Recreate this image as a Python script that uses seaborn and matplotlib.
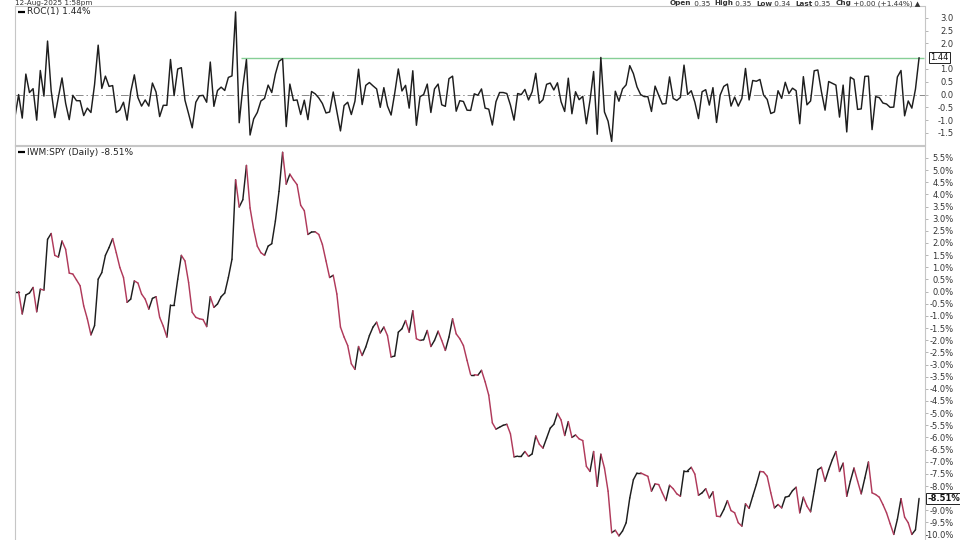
import matplotlib
matplotlib.use('Agg')
import matplotlib.pyplot as plt
import matplotlib.transforms as mtrans
import numpy as np
import pandas as pd
import seaborn as sns

# IWM:SPY relative performance in % (bottom panel), one value per session
PERF = [0.00, 0.00, -0.92, -0.14, -0.06, 0.17, -0.83, 0.10, 0.06, 2.15,
    2.39, 1.49, 1.42, 2.08, 1.74, 0.76, 0.72, 0.48, 0.24, -0.59,
    -1.12, -1.78, -1.40, 0.51, 0.78, 1.49, 1.81, 2.18, 1.60, 0.99,
    0.58, -0.44, -0.31, 0.44, 0.35, -0.10, -0.31, -0.72, -0.28, -0.21,
    -1.06, -1.42, -1.87, -0.55, -0.55, 0.51, 1.49, 1.26, 0.38, -0.85,
    -1.06, -1.12, -1.15, -1.44, -0.21, -0.65, -0.51, -0.21, -0.06, 0.58,
    1.33, 4.60, 3.48, 3.78, 5.19, 3.44, 2.56, 1.87, 1.60, 1.49,
    1.87, 1.97, 2.90, 4.12, 5.73, 4.42, 4.83, 4.60, 4.40, 3.55,
    3.33, 2.35, 2.45, 2.46, 2.35, 1.94, 1.26, 0.58, 0.67, -0.10,
    -1.46, -1.87, -2.22, -2.97, -3.20, -2.26, -2.63, -2.28, -1.81, -1.46,
    -1.26, -1.70, -1.46, -1.81, -2.69, -2.65, -1.67, -1.53, -1.19, -1.67,
    -0.79, -1.94, -2.01, -1.98, -1.60, -2.26, -2.01, -1.63, -2.01, -2.42,
    -1.87, -1.12, -1.74, -1.94, -2.22, -2.83, -3.42, -3.42, -3.44, -3.24,
    -3.71, -4.26, -5.40, -5.66, -5.58, -5.50, -5.46, -5.85, -6.80, -6.77,
    -6.77, -6.58, -6.78, -6.68, -5.94, -6.28, -6.44, -6.03, -5.62, -5.46,
    -5.01, -5.28, -5.92, -5.35, -6.00, -5.90, -6.06, -6.13, -7.19, -7.40,
    -6.58, -8.01, -6.69, -7.26, -8.21, -9.92, -9.82, -10.05, -9.85, -9.51,
    -8.49, -7.74, -7.46, -7.46, -7.53, -7.60, -8.21, -7.91, -7.94, -8.28,
    -8.60, -7.97, -8.11, -8.32, -8.42, -7.37, -7.37, -7.23, -7.51, -8.38,
    -8.28, -8.11, -8.49, -8.24, -9.24, -9.26, -8.97, -8.60, -9.01,
    -9.10, -9.51, -9.65, -8.73, -8.92, -8.42, -7.94, -7.40, -7.42, -7.60,
    -8.28, -8.90, -8.76, -8.90, -8.46, -8.42, -8.19, -8.05, -9.10, -8.46,
    -8.83, -9.06, -8.21, -7.33, -7.23, -7.80, -7.33, -6.92, -6.58, -7.40,
    -7.06, -8.42, -7.80, -7.26, -7.80, -8.32, -7.67, -7.01, -8.28, -8.35,
    -8.46, -8.76, -9.10, -9.55, -9.99, -9.37, -8.52, -9.28, -9.51, -9.99,
    -9.80, -8.51]

# ROC(1) of the ratio (top panel)
ROC = [-0.87, 0.00, -0.92, 0.80, 0.08, 0.23, -1.00, 0.94, -0.06, 2.09,
    0.15, -0.90, -0.10, 0.65, -0.34, -0.98, -0.03, -0.24, -0.24, -0.82,
    -0.53, -0.70, 0.39, 1.93, 0.24, 0.72, 0.32, 0.35, -0.70, -0.60,
    -0.30, -1.00, 0.10, 0.77, -0.12, -0.45, -0.21, -0.45, 0.45, 0.10,
    -0.86, -0.42, -0.42, 1.37, -0.04, 1.00, 1.05, -0.22, -0.75, -1.30,
    -0.30, -0.05, -0.03, -0.30, 1.27, -0.46, 0.16, 0.29, 0.16, 0.67,
    0.73, 3.23, -1.10, 0.29, 1.37, -1.58, -0.95, -0.70, -0.25, -0.15,
    0.37, 0.08, 0.80, 1.30, 1.40, -1.25, 0.41, -0.23, -0.21, -0.78,
    -0.22, -0.98, 0.12, 0.03, -0.13, -0.35, -0.72, -0.68, 0.10, -0.65,
    -1.42, -0.43, -0.30, -0.78, -0.26, 0.99, -0.39, 0.36, 0.47, 0.34,
    0.22, -0.50, 0.27, -0.45, -0.80, 0.05, 1.00, 0.14, 0.36, -0.53,
    0.93, -1.20, -0.08, 0.00, 0.41, -0.70, 0.22, 0.41, -0.40, -0.46,
    0.62, 0.72, -0.65, -0.24, -0.27, -0.61, -0.62, 0.03, -0.03, 0.22,
    -0.53, -0.57,
    -1.19, -0.28, 0.08, 0.08, 0.04, -0.41, -1.00, 0.04, 0.00, 0.20, -0.21, 0.11,
    0.83, -0.34, -0.20, 0.40, 0.45, 0.18, 0.46, -0.28, -0.66, 0.64,
    -0.75, 0.11, -0.20, -0.07, -1.14, -0.23, 0.90, -1.55, 1.45, -0.68,
    -1.04, -1.83, 0.13, -0.26, 0.22, 0.38, 1.13, 0.82, 0.30, 0.00,
    -0.08, -0.08, -0.66, 0.33, -0.03, -0.37, -0.35, 0.69, -0.15, -0.23,
    -0.11, 1.15, 0.00, 0.15, -0.30, -0.94, 0.11, 0.19, -0.41, 0.27,
    -1.09, -0.02, 0.32, 0.41, -0.45, -0.10, -0.45, -0.15, 1.02, -0.21,
    0.55, 0.52, 0.59, -0.02, -0.19, -0.74, -0.68, 0.15, -0.15, 0.48,
    0.04, 0.25, 0.15, -1.14, 0.70, -0.40, -0.25, 0.93, 0.96, 0.11,
    -0.61, 0.51, 0.44, 0.37, -0.88, 0.37, -1.46, 0.68, 0.59, -0.58,
    -0.56, 0.71, 0.72, -1.37, -0.08, -0.12, -0.33, -0.37, -0.50, -0.49,
    0.69, 0.94, -0.83, -0.25, -0.53, 0.21, 1.44]

ROC_LAST = 1.44
PERF_LAST = -8.51
LEVEL_START = 62.5  # session where the drawn level line on ROC begins

ROC_TICKS = [3.0, 2.5, 2.0, 1.0, 0.5, 0.0, -0.5, -1.0, -1.5]
PERF_TICKS = [5.5, 5.0, 4.5, 4.0, 3.5, 3.0, 2.5, 2.0, 1.5, 1.0, 0.5, 0.0,
    -0.5, -1.0, -1.5, -2.0, -2.5, -3.0, -3.5, -4.0, -4.5, -5.0, -5.5,
    -6.0, -6.5, -7.0, -7.5, -8.0, -9.0, -9.5, -10.0]

HEADER_LEFT = '12-Aug-2025 1:58pm'
HEADER_RIGHT = [('Open', True), (' 0.35  ', False), ('High', True),
    (' 0.35  ', False), ('Low', True), (' 0.34  ', False), ('Last', True),
    (' 0.35  ', False), ('Chg', True), (' +0.00 (+1.44%) \u25b2', False)]

UP_COL = '#1e1e1e'
DOWN_COL = '#b03a5b'
EDGE = '#c6c6c6'
XMAX = 251.5
HEAD_FS = 5.2


def perf_segments(vals):
    # one two-point segment per session, tagged by direction
    rows = []
    for i in range(len(vals) - 1):
        d = 'up' if vals[i + 1] >= vals[i] else 'down'
        rows.append((i, i, vals[i], d))
        rows.append((i, i + 1, vals[i + 1], d))
    return pd.DataFrame(rows, columns=['seg', 'day', 'pct', 'dir'])


def style_panel(ax, ylim, ticks, fmt):
    ax.set_xlim(0, XMAX)
    ax.set_ylim(*ylim)
    ax.yaxis.tick_right()
    ax.set_yticks(ticks)
    ax.set_yticklabels([fmt.format(t) for t in ticks])
    ax.tick_params(axis='y', labelsize=6, length=2, width=0.6,
        color='#aaaaaa', pad=19, labelcolor='#333333')
    plt.setp(ax.get_yticklabels(), ha='right')
    ax.set_xticks([])
    ax.set_xlabel('')
    ax.set_ylabel('')
    for s in ax.spines.values():
        s.set_color(EDGE)
        s.set_linewidth(0.8)


def panel_label(ax, y, text):
    ax.plot([0.0035, 0.0105], [y, y], transform=ax.transAxes, color='black',
        lw=1.6, solid_capstyle='butt', clip_on=False)
    ax.text(0.0135, y, text, transform=ax.transAxes, fontsize=6.5,
        color='#222222', va='center', ha='left')


def value_tag(ax, y, text, dx, bold=False):
    tr = mtrans.blended_transform_factory(ax.transAxes, ax.transData)
    ax.annotate(text, xy=(1.0, y), xycoords=tr, xytext=(dx, 0),
        textcoords='offset points', ha='left', va='center', fontsize=6,
        fontweight='bold' if bold else 'normal', color='#111111',
        annotation_clip=False,
        bbox=dict(boxstyle='square,pad=0.15', fc='white', ec='#222222',
            lw=0.7))


def main():
    sns.set_style('white')
    plt.rcParams['font.family'] = ['DejaVu Sans']

    fig = plt.figure(figsize=(9.6, 5.4), dpi=100)
    left, width = 15 / 960, 909.5 / 960
    ax_top = fig.add_axes([left, 1 - 145.5 / 540, width, 139.5 / 540])
    ax_bot = fig.add_axes([left, 0.0, width, 394.5 / 540])

    # ROC(1) panel
    roc_df = pd.DataFrame({'day': np.arange(len(ROC)), 'roc': ROC})
    ax_top.axhline(0, color='#8a8a8a', lw=0.7, ls=(0, (8, 3, 1.5, 3)))
    ax_top.hlines(ROC_LAST, LEVEL_START, XMAX, color='#86cf96', lw=1.0)
    sns.lineplot(data=roc_df, x='day', y='roc', ax=ax_top, color=UP_COL,
        lw=1.05)
    style_panel(ax_top, (-1.99, 3.46), ROC_TICKS, '{:.1f}')
    panel_label(ax_top, 0.957, f'ROC(1) {ROC_LAST:.2f}%')
    value_tag(ax_top, ROC_LAST, f'{ROC_LAST:.2f}', 4.2)

    # IWM:SPY performance panel, black up-days, red down-days
    seg_df = perf_segments(PERF)
    sns.lineplot(data=seg_df, x='day', y='pct', hue='dir', units='seg',
        estimator=None, palette={'up': UP_COL, 'down': DOWN_COL},
        legend=False, ax=ax_bot, lw=1.05, sort=False,
        solid_capstyle='round')
    style_panel(ax_bot, (-10.22, 6.01), PERF_TICKS, '{:.1f}%')
    ax_bot.spines['bottom'].set_visible(False)
    panel_label(ax_bot, 0.9835, f'IWM:SPY (Daily) {PERF_LAST:.2f}%')
    value_tag(ax_bot, PERF_LAST, f'{PERF_LAST:.2f}%', 2.2, bold=True)

    # header line squeezed above the top panel
    head_y = 1 - 0.5 / 540
    fig.text(15 / 960, head_y, HEADER_LEFT, fontsize=HEAD_FS,
        color='#333333', va='top', ha='left')
    prev = None
    for txt, bold in HEADER_RIGHT:
        kw = dict(fontsize=HEAD_FS, color='#333333', va='top', ha='left',
            fontweight='bold' if bold else 'normal', annotation_clip=False)
        if prev is None:
            prev = ax_top.annotate(txt, xy=(670 / 960, head_y),
                xycoords='figure fraction', **kw)
        else:
            prev = ax_top.annotate(txt, xy=(1, 1), xycoords=prev, **kw)

    fig.savefig('out.png', dpi=100)


if __name__ == '__main__':
    main()
